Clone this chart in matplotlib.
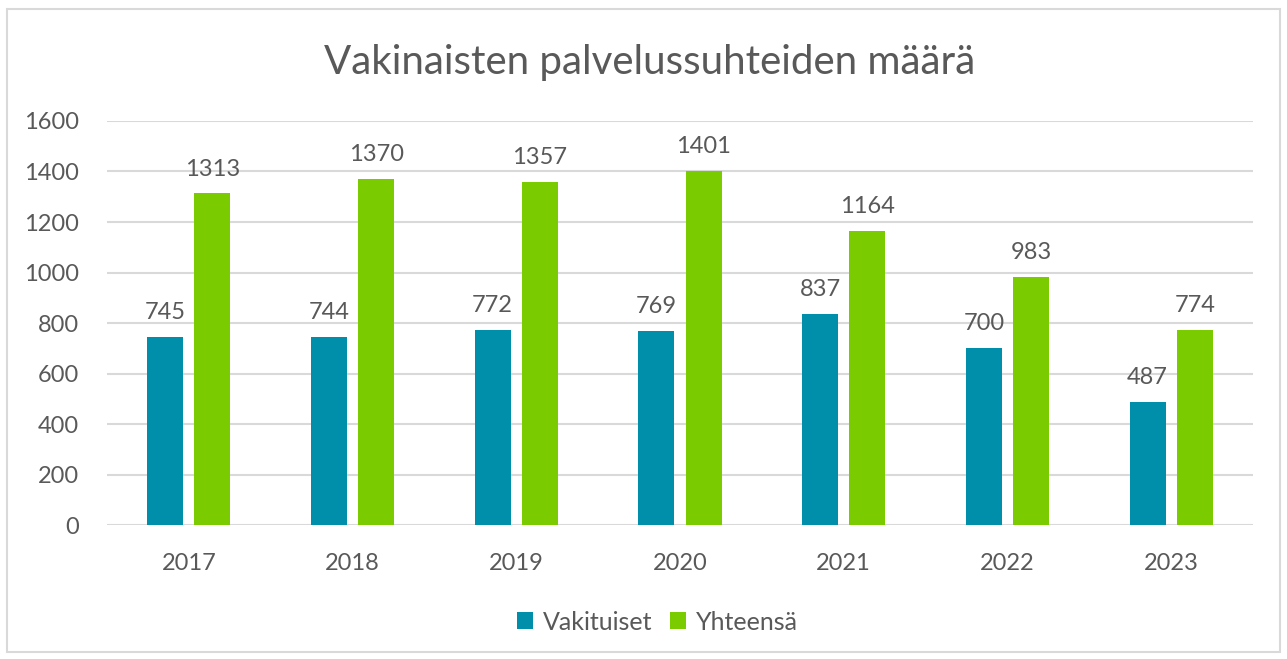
import numpy as np
import matplotlib
matplotlib.use("Agg")
import matplotlib.pyplot as plt
from matplotlib.patches import Rectangle

plt.rcParams['font.family'] = ['Lato', 'DejaVu Sans']

years = ['2017', '2018', '2019', '2020', '2021', '2022', '2023']
vakituiset = [745, 744, 772, 769, 837, 700, 487]
yhteensa = [1313, 1370, 1357, 1401, 1164, 983, 774]

blue = '#008FAB'
green = '#7ACC00'
text_col = '#595959'
grid_col = '#D9D9D9'

fig = plt.figure(figsize=(12.87, 6.59), dpi=100)
ax = fig.add_axes([0.0831, 0.2033, 0.8905, 0.6131])

x = np.arange(len(years))
w = 0.22
off = 0.144
b1 = ax.bar(x - off, vakituiset, w, color=blue, label='Vakituiset', zorder=3)
b2 = ax.bar(x + off, yhteensa, w, color=green, label='Yhteensä', zorder=3)

for bars, vals in ((b1, vakituiset), (b2, yhteensa)):
    for rect, v in zip(bars, vals):
        ax.annotate(str(v), (rect.get_x() + rect.get_width() / 2, v),
                    xytext=(0, 10), textcoords='offset points',
                    ha='center', va='bottom', fontsize=17, color=text_col)

ax.set_xlim(-0.5, len(years) - 0.5)
ax.set_ylim(0, 1600)
ax.set_yticks(range(0, 1601, 200))
ax.set_xticks(x)
ax.set_xticklabels(years)
ax.tick_params(length=0, labelsize=17, colors=text_col)
ax.tick_params(axis='y', pad=20)
ax.tick_params(axis='x', pad=20)
ax.yaxis.grid(True, color=grid_col, linewidth=1.5, zorder=0)
for s in ax.spines.values():
    s.set_visible(False)

fig.text(0.505, 0.905, 'Vakinaisten palvelussuhteiden määrä', ha='center',
         va='center', fontsize=29, color=text_col)

fig.legend(loc='center', bbox_to_anchor=(0.511, 0.056), ncol=2, frameon=False,
           fontsize=18, handlelength=0.65, handleheight=0.65, handletextpad=0.4,
           columnspacing=0.7, labelcolor=text_col)

fig.patches.append(Rectangle((7 / 1287, 7 / 659), 1273 / 1287, 643 / 659,
                             transform=fig.transFigure, fill=False,
                             edgecolor=grid_col, linewidth=1.5))

fig.savefig('out.png', dpi=100, facecolor='white')
